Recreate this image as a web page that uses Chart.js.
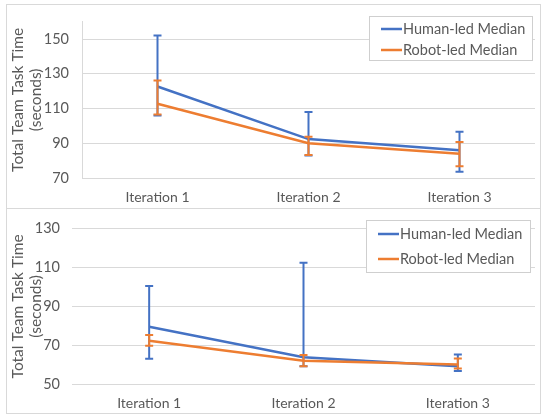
<!DOCTYPE html>
<html>
<head>
<meta charset="utf-8">
<script src="https://cdn.jsdelivr.net/npm/chart.js@4.4.0/dist/chart.umd.min.js"></script>
<style>
  html, body { margin: 0; padding: 0; background: #fff; }
  body { width: 541px; height: 418px; position: relative; overflow: hidden; }
  .frame { position: absolute; border: 1px solid #d9d9d9; box-sizing: border-box; }
  .box { position: absolute; left: 0; width: 541px; }
</style>
</head>
<body>
<div class="frame" style="left:6px;top:4px;width:535px;height:205px;"></div>
<div class="frame" style="left:6px;top:208px;width:535px;height:206px;"></div>
<div class="box" style="top:0;height:208px;"><canvas id="chartTop"></canvas></div>
<div class="box" style="top:208px;height:210px;"><canvas id="chartBottom"></canvas></div>
<script>
// 공통 카테고리 / 범례
const iterations = ["Iteration 1", "Iteration 2", "Iteration 3"];
const seriesNames = ["Human-led Median", "Robot-led Median"];
const axisTitle = ["Total Team Task Time", "(seconds)"];

// 위쪽 차트 값
const topHumanMedian = [122.7, 92.4, 86.0];
const topHumanHigh = [152, 108, 96.7];
const topHumanLow = [106, 83, 73.6];
const topRobotMedian = [112.8, 90.0, 83.9];
const topRobotHigh = [126.2, 93.8, 90.8];
const topRobotLow = [106.6, 83.3, 76.8];
const topTicks = [70, 90, 110, 130, 150];

// 아래쪽 차트 값
const botHumanMedian = [79.5, 63.8, 59.1];
const botHumanHigh = [100.5, 112.5, 65.2];
const botHumanLow = [63, 59.1, 56.7];
const botRobotMedian = [72.3, 62.0, 60.1];
const botRobotHigh = [75.3, 65.0, 63.1];
const botRobotLow = [69.7, 59.1, 58.0];
const botTicks = [50, 70, 90, 110, 130];

const BLUE = "#4472c4";
const ORANGE = "#ed7d31";
const TXT = "#595959";
const FONT = "Lato";

// 에러바 그리기 (데이터셋마다 그 데이터셋 직후에)
const errorBars = {
  id: "errorBars",
  afterDatasetDraw(chart, args) {
    const ds = chart.data.datasets[args.index];
    if (!ds.high) return;
    const ctx = chart.ctx;
    const xs = chart.scales.x, ys = chart.scales.y;
    ctx.save();
    ctx.strokeStyle = ds.borderColor;
    ctx.lineWidth = 2;
    ds.high.forEach((hi, i) => {
      const x = xs.getPixelForValue(i);
      const yHi = ys.getPixelForValue(hi);
      const yLo = ys.getPixelForValue(ds.low[i]);
      ctx.beginPath();
      ctx.moveTo(x, yHi);
      ctx.lineTo(x, yLo);
      ctx.moveTo(x - 4, yHi);
      ctx.lineTo(x + 4, yHi);
      ctx.moveTo(x - 4, yLo);
      ctx.lineTo(x + 4, yLo);
      ctx.stroke();
    });
    ctx.restore();
  },
};

// 엑셀처럼 플롯 안쪽에 박스 범례
const boxLegend = {
  id: "boxLegend",
  afterDraw(chart, args, opts) {
    const ctx = chart.ctx;
    ctx.save();
    ctx.fillStyle = "#fff";
    ctx.fillRect(opts.x, opts.y, opts.w, opts.h);
    ctx.strokeStyle = "#cfcfcf";
    ctx.lineWidth = 1;
    ctx.strokeRect(opts.x + 0.5, opts.y + 0.5, opts.w, opts.h);
    ctx.font = "14.5px " + FONT;
    ctx.textBaseline = "middle";
    chart.data.datasets.forEach((ds, i) => {
      const y = opts.y + opts.rows[i];
      ctx.strokeStyle = ds.borderColor;
      ctx.lineWidth = 2.5;
      ctx.beginPath();
      ctx.moveTo(opts.x + 12, y);
      ctx.lineTo(opts.x + 33, y);
      ctx.stroke();
      ctx.fillStyle = TXT;
      ctx.fillText(ds.label, opts.x + 34, y);
    });
    ctx.restore();
  },
};

const makeChart = (el, cfg) => {
  return new Chart(document.getElementById(el), {
    type: "line",
    data: {
      labels: iterations,
      datasets: [
        {
          label: seriesNames[0],
          data: cfg.human,
          high: cfg.humanHigh,
          low: cfg.humanLow,
          borderColor: BLUE,
          borderWidth: 2.5,
          pointRadius: 0,
          tension: 0,
          order: 1,
        },
        {
          label: seriesNames[1],
          data: cfg.robot,
          high: cfg.robotHigh,
          low: cfg.robotLow,
          borderColor: ORANGE,
          borderWidth: 2.5,
          pointRadius: 0,
          tension: 0,
          order: 0,
        },
      ],
    },
    options: {
      responsive: true,
      maintainAspectRatio: false,
      animation: false,
      layout: { padding: { top: cfg.padTop, right: 6, left: 0, bottom: 0 } },
      plugins: {
        legend: { display: false },
        tooltip: { enabled: false },
        boxLegend: cfg.legend,
      },
      scales: {
        x: {
          offset: true,
          grid: { display: false, drawTicks: false },
          border: { display: false },
          ticks: { color: TXT, font: { family: FONT, size: 14 }, padding: 11, maxRotation: 0 },
          afterFit: (s) => { s.height = cfg.xHeight; },
        },
        y: {
          min: cfg.min,
          max: cfg.max,
          grid: { color: "#d9d9d9", lineWidth: 1, drawTicks: false },
          border: { display: cfg.axisLine, color: "#d9d9d9" },
          ticks: { color: TXT, font: { family: FONT, size: 14.5 }, padding: cfg.tickPad },
          afterBuildTicks: (s) => { s.ticks = cfg.ticks.map((v) => ({ value: v })); },
          title: {
            display: true,
            text: axisTitle,
            color: TXT,
            font: { family: FONT, size: 15.5, lineHeight: 1.18 },
            padding: { top: 8.8, bottom: 0 },
          },
          afterFit: (s) => { s.width = cfg.yWidth; },
        },
      },
    },
    plugins: [errorBars, boxLegend],
  });
};

makeChart("chartTop", {
  human: topHumanMedian, humanHigh: topHumanHigh, humanLow: topHumanLow,
  robot: topRobotMedian, robotHigh: topRobotHigh, robotLow: topRobotLow,
  ticks: topTicks, min: 70, max: 160,
  padTop: 13, xHeight: 30, yWidth: 82, tickPad: 13, axisLine: true,
  legend: { x: 369, y: 16, w: 163, h: 44, rows: [13, 34] },
});

makeChart("chartBottom", {
  human: botHumanMedian, humanHigh: botHumanHigh, humanLow: botHumanLow,
  robot: botRobotMedian, robotHigh: botRobotHigh, robotLow: botRobotLow,
  ticks: botTicks, min: 50, max: 130,
  padTop: 10, xHeight: 34, yWidth: 72, tickPad: 12, axisLine: false,
  legend: { x: 366, y: 12, w: 164, h: 52, rows: [14, 39] },
});
</script>
</body>
</html>
